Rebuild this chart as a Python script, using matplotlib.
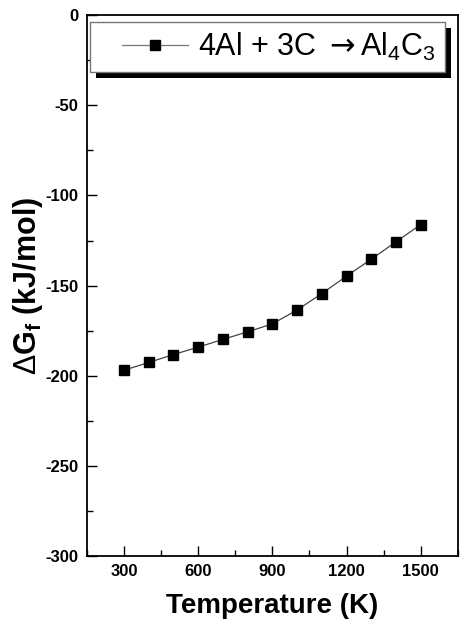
import numpy as np
import matplotlib.pyplot as plt
from matplotlib.patches import Rectangle
from matplotlib.ticker import MultipleLocator
from matplotlib.legend_handler import HandlerLine2D

# temperature (K) and Gibbs free energy of formation (kJ/mol)
temperature = [300, 400, 500, 600, 700, 800, 900, 1000, 1100, 1200, 1300, 1400, 1500]
dG = [-196.9, -192.6, -188.2, -184.1, -179.8, -175.6, -171.2, -163.5,
      -154.4, -144.7, -135.3, -125.7, -116.1]
xticks = [300, 600, 900, 1200, 1500]
yticks = [0, -50, -100, -150, -200, -250, -300]

plt.rcParams['font.family'] = ['Liberation Sans', 'DejaVu Sans']
plt.rcParams['axes.unicode_minus'] = False
plt.rcParams['mathtext.fontset'] = 'custom'
plt.rcParams['mathtext.rm'] = 'Liberation Sans'
plt.rcParams['mathtext.it'] = 'Liberation Sans'
plt.rcParams['mathtext.bf'] = 'Liberation Sans:bold'
plt.rcParams['mathtext.sf'] = 'DejaVu Sans'

fig = plt.figure(figsize=(4.62, 6.32), dpi=100)
ax = fig.add_axes([0.188, 0.12, 0.803, 0.856])

line, = ax.plot(temperature, dG, color='#444444', lw=0.9, marker='s', ms=6.5,
                mfc='black', mec='black',
                label=r'4Al + 3C $\mathsf{\rightarrow}$Al$_4$C$_3$')

ax.set_xlim(150, 1650)
ax.set_ylim(-300, 0)
ax.set_xticks(xticks)
ax.set_yticks(yticks)
ax.xaxis.set_minor_locator(MultipleLocator(150))
ax.yaxis.set_minor_locator(MultipleLocator(25))
ax.tick_params(which='both', direction='in', top=False, right=False, width=1)
ax.tick_params(which='major', length=7.5, pad=6, labelsize=12)
ax.tick_params(which='minor', length=4)
for lab in ax.get_xticklabels() + ax.get_yticklabels():
    lab.set_fontweight('bold')
for sp in ax.spines.values():
    sp.set_linewidth(1.3)

ax.set_xlabel('Temperature (K)', fontsize=20, fontweight='bold', labelpad=10)
ax.set_ylabel(r'$\Delta$G$_\mathbf{f}$ (kJ/mol)', fontsize=22, fontweight='bold', labelpad=0)

leg = ax.legend(loc='upper left', bbox_to_anchor=(0.008, 0.988), fontsize=22,
                handlelength=2.9, handletextpad=0.35, borderpad=0.3,
                handler_map={line: HandlerLine2D(xpad=0.75)},
                fancybox=False, frameon=True, borderaxespad=0, framealpha=1)
leg.get_frame().set_edgecolor('#777777')
leg.get_frame().set_linewidth(1.0)
leg.set_zorder(5)
for h in leg.get_lines():
    h.set_color('#777777')
    h.set_markerfacecolor('black')
    h.set_markeredgecolor('black')

# black drop shadow behind the legend box
fig.canvas.draw()
bb = leg.get_frame().get_window_extent()
shadow = Rectangle((bb.x0 + 6, bb.y0 - 6), bb.width, bb.height, transform=None,
                   facecolor='black', edgecolor='none', zorder=4, clip_on=False)
ax.add_artist(shadow)

fig.savefig('out.png', dpi=100)
